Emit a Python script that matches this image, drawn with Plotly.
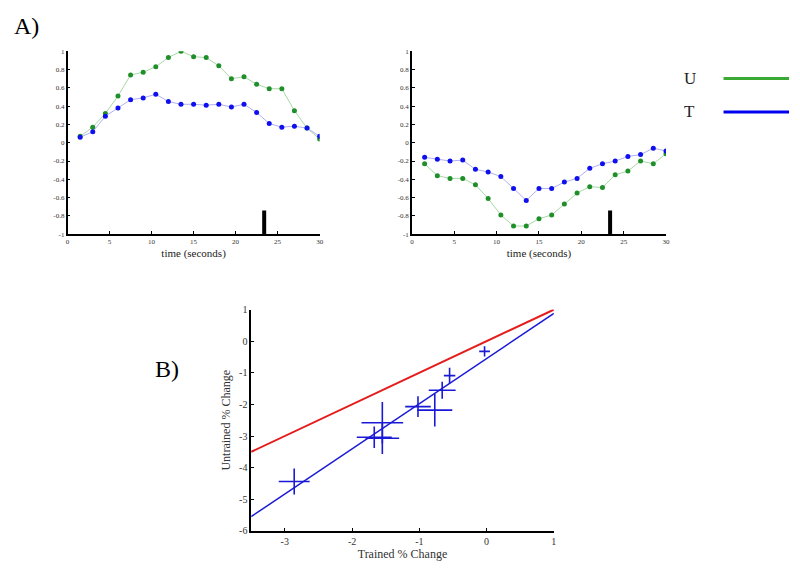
import plotly.graph_objects as go

# ---------------- data ----------------
time_s = [1.5, 3, 4.5, 6, 7.5, 9, 10.5, 12, 13.5, 15, 16.5, 18, 19.5, 21, 22.5, 24, 25.5, 27, 28.5, 30]

left_U = [0.07, 0.17, 0.32, 0.51, 0.74, 0.77, 0.83, 0.93, 1.0, 0.94, 0.93, 0.84, 0.70, 0.72, 0.64, 0.59, 0.59, 0.35, 0.16, 0.04]
left_T = [0.06, 0.12, 0.29, 0.38, 0.47, 0.49, 0.53, 0.45, 0.42, 0.42, 0.41, 0.42, 0.39, 0.42, 0.33, 0.21, 0.17, 0.18, 0.16, 0.07]

right_U = [-0.23, -0.36, -0.39, -0.39, -0.46, -0.61, -0.79, -0.91, -0.91, -0.83, -0.79, -0.67, -0.55, -0.48, -0.49, -0.35, -0.31, -0.20, -0.23, -0.12]
right_T = [-0.16, -0.18, -0.20, -0.19, -0.29, -0.32, -0.37, -0.50, -0.63, -0.50, -0.50, -0.43, -0.39, -0.28, -0.23, -0.20, -0.15, -0.13, -0.06, -0.09]

stim_end_x = [23.4, 23.4]
stim_end_y = [-1.0, -0.74]

top_xticks = [0, 5, 10, 15, 20, 25, 30]
top_yticks = [1, 0.8, 0.6, 0.4, 0.2, 0, -0.2, -0.4, -0.6, -0.8, -1]
top_yticktext = ["1", "0.8", "0.6", "0.4", "0.2", "0", "-0.2", "-0.4", "-0.6", "-0.8", "-1"]

trained = [-2.86, -1.55, -1.67, -1.55, -1.02, -0.77, -0.66, -0.55, -0.03]
untrained = [-4.44, -2.58, -3.04, -3.07, -2.07, -2.18, -1.55, -1.09, -0.32]
trained_err = [0.23, 0.31, 0.26, 0.25, 0.19, 0.26, 0.20, 0.085, 0.08]
untrained_err = [0.41, 0.66, 0.34, 0.50, 0.33, 0.52, 0.27, 0.25, 0.16]

identity_x = [-3.5, 1]
identity_y = [-3.5, 1]
fit_x = [-3.5, 1]
fit_y = [-5.55, 0.88]

b_xticks = [-3, -2, -1, 0, 1]
b_yticks = [1, 0, -1, -2, -3, -4, -5, -6]

# ---------------- style ----------------
SERIF = "Liberation Serif, Times New Roman, serif"
GREEN_M = "#1f8f2a"
GREEN_L = "#a8d8a8"
BLUE_M = "#1010ee"
BLUE_L = "#b0b0f0"

fig = go.Figure()

def panel_traces(U, T, xa, ya):
    fig.add_trace(go.Scatter(x=time_s, y=U, mode="lines+markers", xaxis=xa, yaxis=ya,
                             line=dict(color=GREEN_L, width=1),
                             marker=dict(color=GREEN_M, size=5), showlegend=False))
    fig.add_trace(go.Scatter(x=time_s, y=T, mode="lines+markers", xaxis=xa, yaxis=ya,
                             line=dict(color=BLUE_L, width=1),
                             marker=dict(color=BLUE_M, size=5), showlegend=False))
    fig.add_trace(go.Scatter(x=stim_end_x, y=stim_end_y, mode="lines", xaxis=xa, yaxis=ya,
                             line=dict(color="black", width=4), showlegend=False))

panel_traces(left_U, left_T, "x", "y")
panel_traces(right_U, right_T, "x2", "y2")

# bottom panel
fig.add_trace(go.Scatter(x=identity_x, y=identity_y, mode="lines", xaxis="x3", yaxis="y3",
                         line=dict(color="#e51c1c", width=2), showlegend=False))
fig.add_trace(go.Scatter(x=fit_x, y=fit_y, mode="lines", xaxis="x3", yaxis="y3",
                         line=dict(color="#1a1ad6", width=1.5), showlegend=False))
fig.add_trace(go.Scatter(x=trained, y=untrained, mode="markers", xaxis="x3", yaxis="y3",
                         marker=dict(color="#1a1ad6", size=1),
                         error_x=dict(type="data", array=trained_err, color="#1a1ad6", thickness=1.6, width=0),
                         error_y=dict(type="data", array=untrained_err, color="#1a1ad6", thickness=1.6, width=0),
                         showlegend=False))

tick_font_small = dict(family=SERIF, size=7, color="#333")
axis_common = dict(showgrid=False, zeroline=False, showline=True, linecolor="black",
                   linewidth=1.5, ticks="inside", ticklen=3, tickcolor="black", mirror=False)

OFF = 8  # default page body margin
W, H = 800 - OFF, 575 - OFF
def px_x(a, b): return [(a - OFF) / W, (b - OFF) / W]
def px_y(top, bottom): return [1 - (bottom - OFF) / H, 1 - (top - OFF) / H]
def pxx(a): return (a - OFF) / W
def pxy(a): return 1 - (a - OFF) / H

fig.update_layout(
    width=W, height=H, margin=dict(l=0, r=0, t=0, b=0),
    paper_bgcolor="white", plot_bgcolor="white",
    xaxis=dict(domain=px_x(66, 320), range=[0, 30], tickvals=top_xticks, anchor="y",
               tickfont=tick_font_small, **axis_common,
               title=dict(text="time (seconds)", font=dict(family=SERIF, size=11, color="#222"), standoff=4)),
    yaxis=dict(domain=px_y(46, 233), range=[-1, 1], tickvals=top_yticks, ticktext=top_yticktext,
               anchor="x", tickfont=tick_font_small, **axis_common),
    xaxis2=dict(domain=px_x(413, 669), range=[0, 30], tickvals=top_xticks, anchor="y2",
                tickfont=tick_font_small, **axis_common,
                title=dict(text="time (seconds)", font=dict(family=SERIF, size=11, color="#222"), standoff=4)),
    yaxis2=dict(domain=px_y(46, 233), range=[-1, 1], tickvals=top_yticks, ticktext=top_yticktext,
                anchor="x2", tickfont=tick_font_small, **axis_common),
    xaxis3=dict(domain=px_x(251, 556), range=[-3.5, 1], tickvals=b_xticks,
                ticktext=[str(v) for v in b_xticks], anchor="y3",
                tickfont=dict(family=SERIF, size=10, color="#333"), **axis_common,
                title=dict(text="Trained % Change", font=dict(family=SERIF, size=12, color="#333"), standoff=2)),
    yaxis3=dict(domain=px_y(310, 536), range=[-6, 1], tickvals=b_yticks,
                ticktext=[str(v) for v in b_yticks], anchor="x3",
                tickfont=dict(family=SERIF, size=10, color="#333"), **axis_common,
                title=dict(text="Untrained % Change", font=dict(family=SERIF, size=12, color="#333"), standoff=6)),
)

# panel letters
fig.add_annotation(text="A)", x=pxx(10), y=pxy(20), xref="paper", yref="paper",
                   xanchor="left", yanchor="middle", showarrow=False,
                   font=dict(family=SERIF, size=24, color="black"))
fig.add_annotation(text="B)", x=pxx(152), y=pxy(371), xref="paper", yref="paper",
                   xanchor="left", yanchor="middle", showarrow=False,
                   font=dict(family=SERIF, size=24, color="black"))

# key
for label, color, ypx in [("U", "#3aaa35", 74), ("T", "#0000ee", 108)]:
    fig.add_annotation(text=label, x=pxx(693), y=pxy(ypx), xref="paper", yref="paper",
                       xanchor="center", yanchor="middle", showarrow=False,
                       font=dict(family=SERIF, size=17, color="#222"))
    fig.add_shape(type="line", xref="paper", yref="paper",
                  x0=pxx(727), x1=pxx(793), y0=pxy(ypx), y1=pxy(ypx),
                  line=dict(color=color, width=3))

fig.write_html("out.html")
